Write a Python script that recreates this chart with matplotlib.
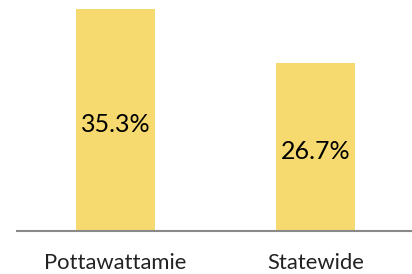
import matplotlib
matplotlib.use("Agg")
import matplotlib.pyplot as plt

categories = ["Pottawattamie", "Statewide"]
values = [35.3, 26.7]
labels = ["35.3%", "26.7%"]

fig = plt.figure(figsize=(4.12, 2.74), dpi=100)
ax = fig.add_axes([17/412, 1 - 231/274, 395/412, 231/274])
x = list(range(len(categories)))
ax.bar(x, values, width=0.395, color="#F6DA6F", zorder=2)
ax.set_xlim(-0.4925, 1.4825)
ax.set_ylim(0, 36.7)
for xi, v, lab in zip(x, values, labels):
    ax.annotate(lab, (xi, v / 2), xytext=(0, -3), textcoords="offset points",
                ha="center", va="center", fontsize=18, family="Lato",
                color="#000000")
for s in ["top", "right", "left"]:
    ax.spines[s].set_visible(False)
ax.spines["bottom"].set_color("#898989")
ax.spines["bottom"].set_linewidth(1.5)
ax.set_yticks([])
ax.set_xticks(x)
ax.set_xticklabels(categories, fontsize=15.8, family="Lato", color="#222222")
ax.tick_params(axis="x", length=0, pad=16)
fig.savefig("out.png", dpi=100)
